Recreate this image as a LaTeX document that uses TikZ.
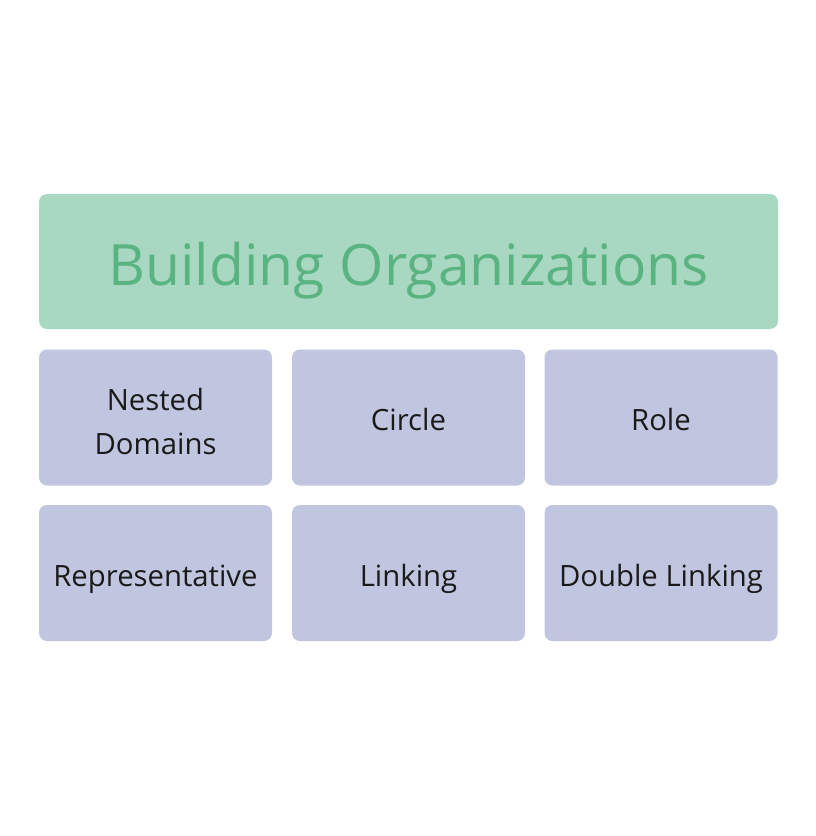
\documentclass[tikz,border=0pt]{standalone}
\usepackage{fontspec}
\setmainfont{Open Sans}
\definecolor{titlefill}{HTML}{A9D8C2}
\definecolor{titletext}{HTML}{5AB482}
\definecolor{itemfill}{HTML}{C0C6E0}
\definecolor{itemtext}{HTML}{1A1A1A}
\tikzset{
  titlebox/.style={fill=titlefill, rounded corners=8pt, minimum width=739pt, minimum height=135pt, inner sep=0pt,
    text=titletext, font=\fontsize{57}{68}\selectfont, text height=47pt, text depth=0pt},
  itembox/.style={fill=itemfill, rounded corners=8pt, minimum width=233pt, minimum height=136pt, inner sep=0pt,
    text=itemtext, align=center, font=\fontsize{29.3}{44}\selectfont},
  oneline/.style={text height=26pt, text depth=0pt}
}
\begin{document}
\begin{tikzpicture}[x=1pt,y=-1pt]
\useasboundingbox[fill=white] (0,0) rectangle (816,836);
\node[titlebox] (title) at (408.5,261.5) {Building Organizations};
\node[itembox] (nested) at (155.5,417.5) {};
\node[text=itemtext, align=center, font=\fontsize{29.3}{44}\selectfont] (nestedtext) at (155.5,421.5) {Nested\\Domains};
\node[itembox, oneline] (circle) at (408.5,417.5) {Circle};
\node[itembox, oneline] (role) at (661,417.5) {Role};
\node[itembox, oneline] (rep) at (155.5,573) {Representative};
\node[itembox, oneline] (linking) at (408.5,573) {Linking};
\node[itembox, oneline] (dlinking) at (661,573) {Double Linking};
\end{tikzpicture}
\end{document}
